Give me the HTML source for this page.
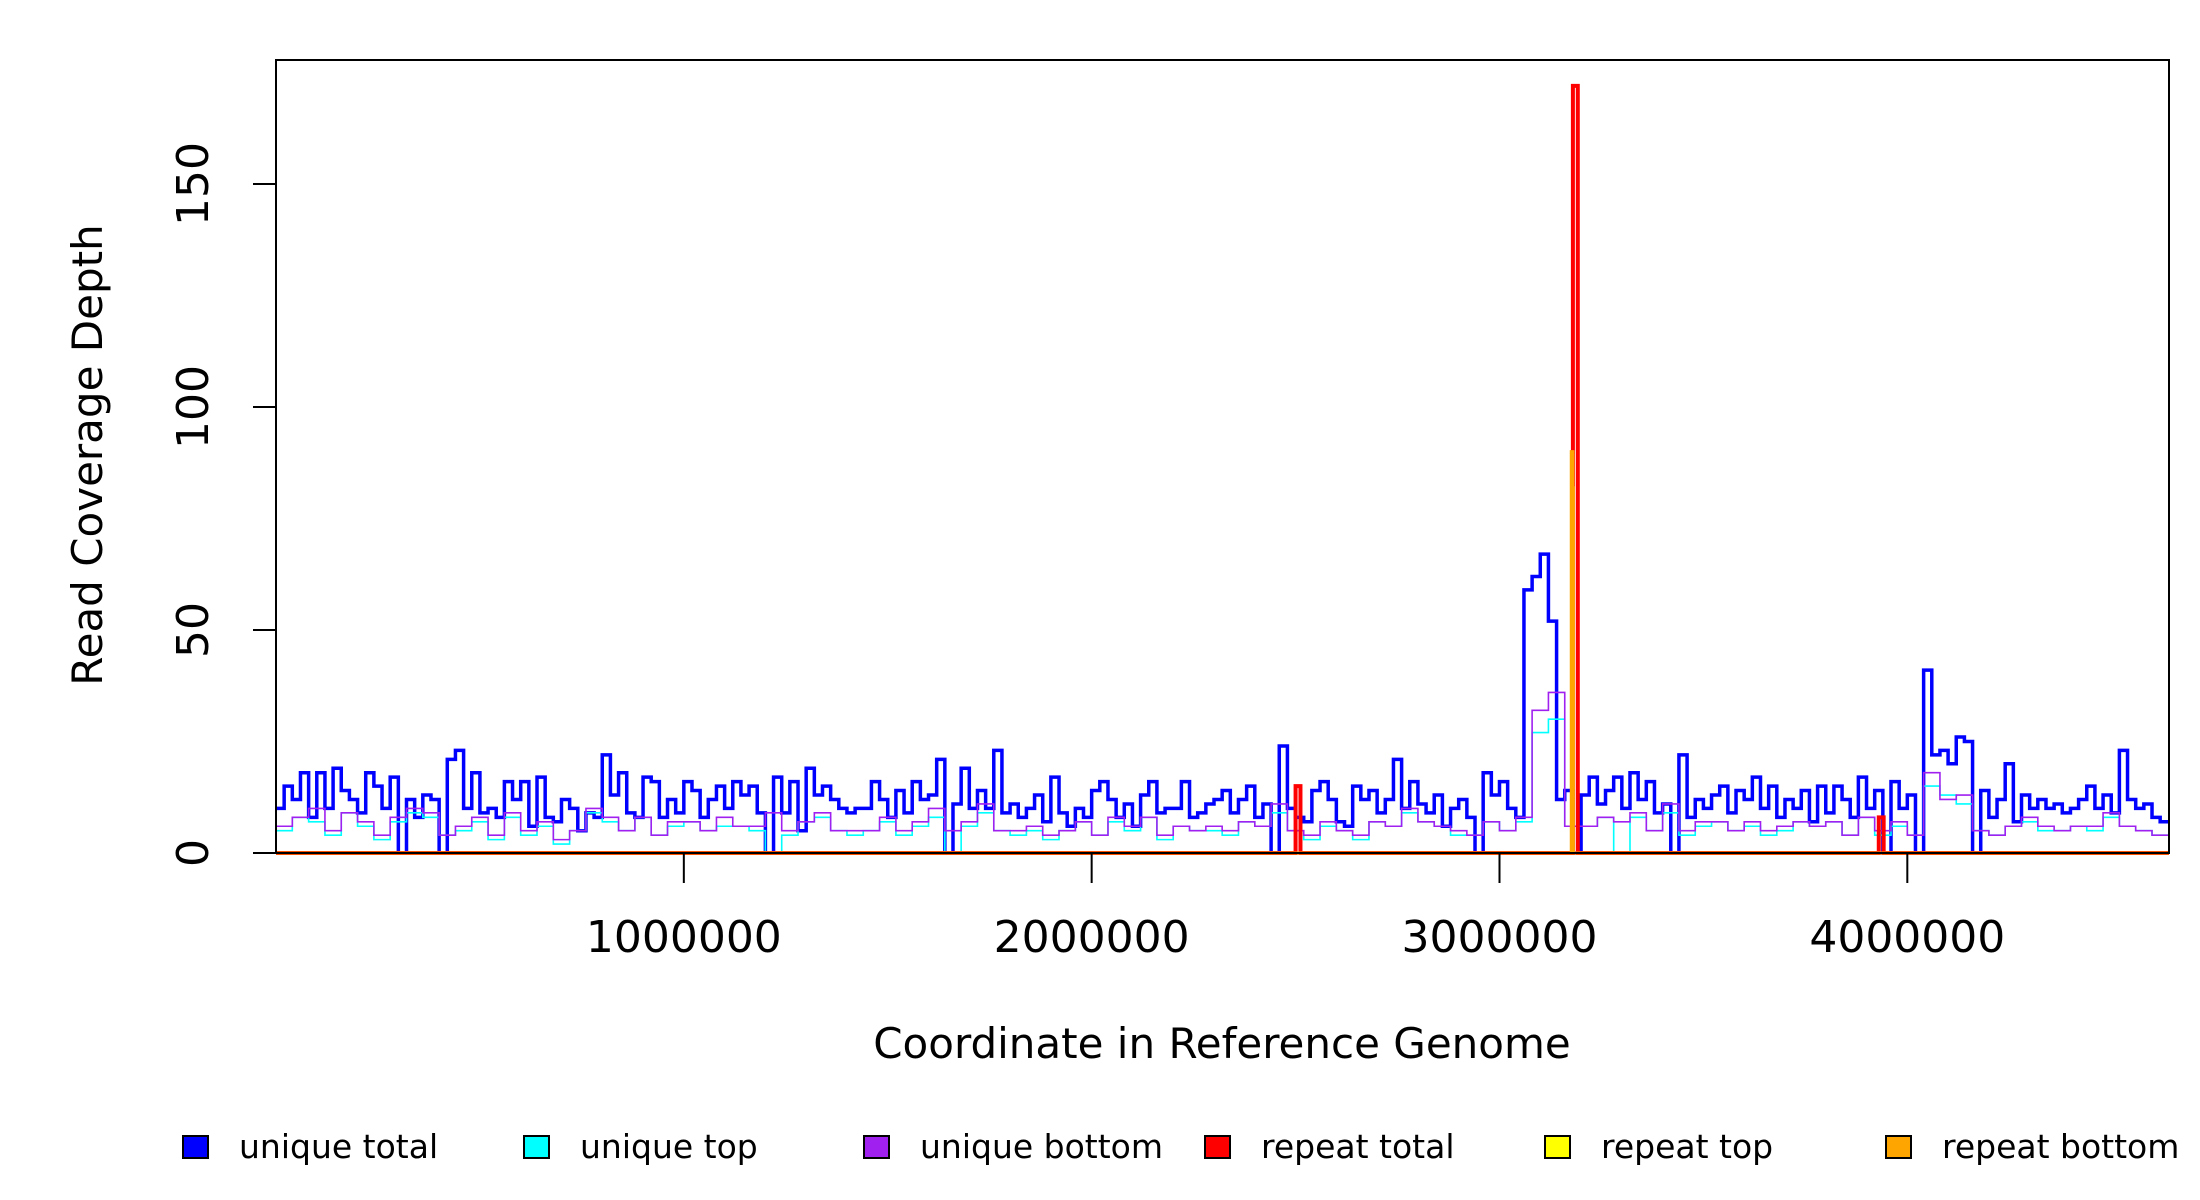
<!DOCTYPE html>
<html><head><meta charset="utf-8"><style>
html,body{margin:0;padding:0;background:#fff}
svg{display:block;font-family:"DejaVu Sans","Liberation Sans",sans-serif}
</style></head><body>
<svg id="chart" width="2200" height="1200" viewBox="0 0 2200 1200">
<rect x="0" y="0" width="2200" height="1200" fill="#fff"/>
<g id="series"></g>
<g id="axes"></g>
<rect x="276" y="60" width="1893" height="793" fill="none" stroke="#000" stroke-width="2"/>
<text x="1222" y="1058" font-size="42" text-anchor="middle">Coordinate in Reference Genome</text>
<text x="0" y="0" font-size="42" text-anchor="middle" transform="translate(102,455) rotate(-90)">Read Coverage Depth</text>
<g id="legend"></g>
</svg>
<script>
const genomeLength = 4641652;
const totalBin = 20000;
const strandBin = 40000;
const repeatBin = 12000;
const uniqueTotal = [10,15,12,18,8,18,10,19,14,12, 9,18,15,10,17,0,12,8,13,12, 0,21,23,10,18,9,10,8,16,12, 16,6,17,8,7,12,10,5,9,8, 22,13,18,9,8,17,16,8,12,9, 16,14,8,12,15,10,16,13,15,9, 0,17,9,16,5,19,13,15,12,10, 9,10,10,16,12,8,14,9,16,12, 13,21,0,11,19,10,14,10,23,9, 11,8,10,13,7,17,9,6,10,8, 14,16,12,8,11,6,13,16,9,10, 10,16,8,9,11,12,14,9,12,15, 8,11,0,24,10,8,7,14,16,12, 7,6,15,12,14,9,12,21,10,16, 11,9,13,6,10,12,8,0,18,13, 16,10,8,59,62,67,52,12,14,0, 13,17,11,14,17,10,18,12,16,9, 11,0,22,8,12,10,13,15,9,14, 12,17,10,15,8,12,10,14,7,15, 9,15,12,8,17,10,14,0,16,10, 13,0,41,22,23,20,26,25,0,14, 8,12,20,7,13,10,12,10,11,9, 10,12,15,10,13,9,23,12,10,11, 8,7];
const uniqueTop = [5,8,7,4,9,6,3,7,9,8, 4,5,7,3,8,4,6,2,5,9, 7,5,8,4,6,7,5,6,6,5, 0,4,7,8,5,4,5,7,4,6, 8,0,6,9,5,4,5,3,5,7, 4,7,5,8,3,6,5,5,4,7, 6,9,5,3,6,5,3,7,6,9, 7,6,4,4,7,5,7,27,30,6, 6,8,0,8,5,9,4,6,7,5, 6,4,5,7,6,7,4,8,4,6, 4,15,13,11,5,4,6,7,5,5, 6,5,8,6,5,4];
const uniqueBottom = [6,8,10,5,9,7,4,8,10,9, 4,6,8,4,9,5,7,3,5,10, 8,5,8,4,7,7,5,8,6,6, 9,5,7,9,5,5,5,8,5,7, 10,5,7,11,5,5,6,4,5,7, 4,8,6,8,4,6,5,6,5,7, 6,11,5,4,7,5,4,7,6,10, 7,6,5,4,7,5,8,32,36,6, 6,8,7,9,5,11,5,7,7,5, 7,5,6,7,6,7,4,8,5,7, 4,18,12,13,5,4,6,8,6,5, 6,6,9,6,5,4];
const repeatTotalPos = [2500000, 3180000, 3930000];
const repeatTotalVal = [15, 172, 8];
const repeatTopPos = [3178000];
const repeatTopVal = [82];
const repeatBottomPos = [3176000];
const repeatBottomVal = [90];
const yTicks = [0, 50, 100, 150];
const xTicks = [1000000, 2000000, 3000000, 4000000];
const legendLabels = ["unique total","unique top","unique bottom","repeat total","repeat top","repeat bottom"];
const legendColors = ["#0000ff","#00ffff","#a020f0","#ff0000","#ffff00","#ffa500"];

const NS = "http://www.w3.org/2000/svg";
const X0 = 276, X1 = 2169, Y0 = 853, PXU = 4.46;
function xScale(v){ return X0 + v / genomeLength * (X1 - X0); }
function yScale(v){ return Y0 - v * PXU; }
function stepPath(arr, bin){
  let d = "";
  for (let i = 0; i < arr.length; i++) {
    const xa = xScale(i*bin), xb = xScale(Math.min((i+1)*bin, genomeLength));
    const y = yScale(arr[i]);
    d += (i===0 ? "M"+xa+","+y : "V"+y) + "H" + xb;
  }
  return d;
}
function sparsePath(pos, vals, bin){
  let d = "M"+X0+","+Y0;
  pos.forEach((p,j)=>{
    d += "H"+xScale(p)+"V"+yScale(vals[j])+"H"+xScale(p+bin)+"V"+Y0;
  });
  d += "H"+X1;
  return d;
}
const sg = document.getElementById("series");
function addPath(d, color, w, name){
  const p = document.createElementNS(NS, "path");
  p.setAttribute("d", d);
  p.setAttribute("fill", "none");
  p.setAttribute("stroke", color);
  p.setAttribute("stroke-width", w);
  
  
  sg.appendChild(p);
}
addPath(stepPath(uniqueTotal, totalBin), "#0000ff", 3.5, "unique-total-line");
addPath(stepPath(uniqueTop, strandBin), "#00ffff", 1.6, "unique-top-line");
addPath(stepPath(uniqueBottom, strandBin), "#a020f0", 1.6, "unique-bottom-line");
addPath(sparsePath(repeatTotalPos, repeatTotalVal, repeatBin), "#ff0000", 4, "repeat-total-line");
addPath(sparsePath(repeatTopPos, repeatTopVal, 4000), "#ffff00", 2, "repeat-top-line");
addPath(sparsePath(repeatBottomPos, repeatBottomVal, 4000), "#ffa500", 3, "repeat-bottom-line");

const ag = document.getElementById("axes");
yTicks.forEach(t=>{
  const y = yScale(t);
  const l = document.createElementNS(NS,"line");
  l.setAttribute("x1",253); l.setAttribute("x2",X0); l.setAttribute("y1",y); l.setAttribute("y2",y);
  l.setAttribute("stroke","#000"); l.setAttribute("stroke-width",2);
  
  
  ag.appendChild(l);
  const tx = document.createElementNS(NS,"text");
  tx.setAttribute("transform","translate(208,"+y+") rotate(-90)");
  tx.setAttribute("text-anchor","middle"); tx.setAttribute("font-size","44");
  tx.textContent = t;
  
  
  ag.appendChild(tx);
});
xTicks.forEach(t=>{
  const x = xScale(t);
  const l = document.createElementNS(NS,"line");
  l.setAttribute("x1",x); l.setAttribute("x2",x); l.setAttribute("y1",Y0); l.setAttribute("y2",883);
  l.setAttribute("stroke","#000"); l.setAttribute("stroke-width",2);
  
  
  ag.appendChild(l);
  const tx = document.createElementNS(NS,"text");
  tx.setAttribute("x",x); tx.setAttribute("y",952);
  tx.setAttribute("text-anchor","middle"); tx.setAttribute("font-size","44");
  tx.textContent = t;
  
  
  ag.appendChild(tx);
});
const lg = document.getElementById("legend");
const lx = [183, 524, 864, 1205, 1545, 1886];
legendLabels.forEach((lab,i)=>{
  const r = document.createElementNS(NS,"rect");
  r.setAttribute("x",lx[i]); r.setAttribute("y",1136); r.setAttribute("width",25); r.setAttribute("height",22);
  r.setAttribute("fill",legendColors[i]); r.setAttribute("stroke","#000"); r.setAttribute("stroke-width",2);
  
  
  lg.appendChild(r);
  const t = document.createElementNS(NS,"text");
  t.setAttribute("x",lx[i]+56); t.setAttribute("y",1158); t.setAttribute("font-size","33");
  t.textContent = lab;
  
  
  lg.appendChild(t);
});
</script>
</body></html>
